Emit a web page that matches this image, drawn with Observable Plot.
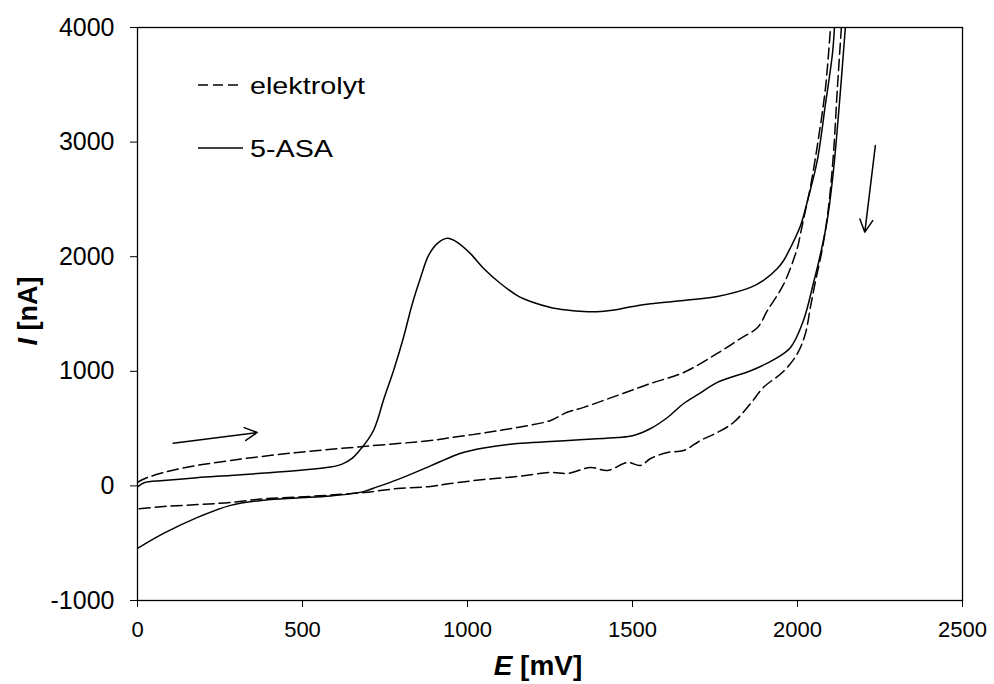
<!DOCTYPE html>
<html><head><meta charset="utf-8">
<script src="https://cdn.jsdelivr.net/npm/d3@7"></script>
<script src="https://cdn.jsdelivr.net/npm/@observablehq/plot@0.6"></script>
<style>body{margin:0;background:#fff;} #chart svg{display:block;}</style>
</head><body><div id="chart"></div>
<script>
// ---- data (E in mV, I in nA) ----
const asaForwardE = [0, 20, 79, 180, 282, 385, 485, 585, 620, 650, 676, 700, 715, 730, 745, 776, 806, 833, 858, 882, 909, 939, 970, 1009, 1049, 1100, 1151, 1200, 1252, 1300, 1352, 1403, 1455, 1500, 1555, 1655, 1757, 1858, 1897, 1939, 1958, 1979, 2009, 2033, 2060, 2085, 2106, 2112];
const asaForwardI = [-10, 28, 47, 72, 91, 112, 135, 165, 190, 240, 320, 410, 483, 600, 746, 1007, 1295, 1592, 1819, 2011, 2116, 2160, 2123, 2027, 1897, 1766, 1661, 1600, 1557, 1535, 1522, 1522, 1540, 1565, 1590, 1618, 1653, 1732, 1793, 1897, 1967, 2080, 2270, 2518, 2840, 3337, 3773, 4000];

const asaReverseE = [2145, 2127, 2109, 2090, 2070, 2048, 2018, 1979, 1927, 1858, 1757, 1700, 1655, 1606, 1555, 1503, 1455, 1352, 1252, 1151, 1049, 979, 948, 888, 788, 715, 685, 585, 485, 382, 282, 182, 79, 0];
const asaReverseI = [4000, 3337, 2752, 2316, 2028, 1766, 1443, 1208, 1100, 1005, 903, 800, 719, 597, 501, 440, 422, 405, 387, 370, 330, 285, 250, 175, 55, -20, -50, -88, -105, -125, -170, -275, -415, -546];

const elForwardE = [0, 30, 130, 282, 485, 685, 888, 948, 1049, 1151, 1252, 1300, 1352, 1455, 1555, 1655, 1757, 1827, 1879, 1909, 1958, 2000, 2009, 2024, 2039, 2064, 2085, 2100];
const elForwardI = [32, 73, 152, 222, 292, 344, 396, 420, 462, 510, 571, 640, 685, 790, 894, 990, 1156, 1286, 1383, 1531, 1760, 2081, 2200, 2403, 2605, 3041, 3478, 4000];

const elReverseE = [2133, 2121, 2109, 2094, 2076, 2055, 2039, 2024, 2000, 1958, 1897, 1858, 1806, 1757, 1706, 1655, 1606, 1555, 1524, 1485, 1424, 1373, 1303, 1252, 1151, 1049, 948, 888, 788, 685, 585, 485, 382, 282, 182, 79, 0];
const elReverseI = [4000, 3478, 2900, 2430, 2081, 1793, 1557, 1330, 1156, 1000, 860, 719, 553, 466, 396, 309, 292, 239, 178, 204, 134, 161, 109, 117, 82, 56, 21, -5, -23, -58, -80, -98, -112, -145, -163, -180, -200];

const seriesNames = ["elektrolyt", "5-ASA"];
const xTicks = [0, 500, 1000, 1500, 2000, 2500];
const yTicks = [-1000, 0, 1000, 2000, 3000, 4000];
const xDomain = [0, 2500];
const yDomain = [-1000, 4000];

// scan-direction arrows [E1, I1, E2, I2]
const arrowE1 = [108, 2236];
const arrowI1 = [373, 2971];
const arrowE2 = [363, 2204];
const arrowI2 = [466, 2214];

// ---- build tables ----
function rows(E, I, series, branch) {
  return E.map((e, i) => ({E: e, I: I[i], series, branch: series + "-" + branch}));
}
const elData = [...rows(elForwardE, elForwardI, seriesNames[0], "f"), ...rows(elReverseE, elReverseI, seriesNames[0], "r")];
const asaData = [...rows(asaForwardE, asaForwardI, seriesNames[1], "f"), ...rows(asaReverseE, asaReverseI, seriesNames[1], "r")];
const arrows = arrowE1.map((e, i) => ({x1: e, y1: arrowI1[i], x2: arrowE2[i], y2: arrowI2[i]}));

const plot = Plot.plot({
  width: 994,
  height: 684,
  marginLeft: 137,
  marginRight: 32,
  marginTop: 27,
  marginBottom: 84,
  style: {fontFamily: "'Liberation Sans', Arial, sans-serif", color: "black", background: "white"},
  x: {domain: xDomain},
  y: {domain: yDomain},
  marks: [
    Plot.axisX({ticks: xTicks, tickSize: 7, tickPadding: 14, tickFormat: d => String(d), fontSize: 22, label: null}),
    Plot.axisY({ticks: yTicks, tickSize: 7, tickPadding: 16, tickFormat: d => String(d), fontSize: 25, label: null}),
    Plot.line(elData, {x: "E", y: "I", z: "branch", stroke: "black", strokeWidth: 1.5, strokeDasharray: "11,5", curve: "catmull-rom", clip: true}),
    Plot.line(asaData, {x: "E", y: "I", z: "branch", stroke: "black", strokeWidth: 1.5, curve: "catmull-rom", clip: true}),
    Plot.arrow(arrows, {x1: "x1", y1: "y1", x2: "x2", y2: "y2", stroke: "black", strokeWidth: 1.5, headLength: 14, headAngle: 55}),
    Plot.frame({stroke: "black", strokeWidth: 1.3})
  ]
});

const svg = d3.select(plot);
const ff = "'Liberation Sans', Arial, sans-serif";

// axis titles
const xt = svg.append("text").attr("x", 538).attr("y", 675).attr("text-anchor", "middle")
  .attr("font-family", ff).attr("font-size", 28).attr("font-weight", "bold").attr("fill", "black");
xt.append("tspan").attr("font-style", "italic").text("E");
xt.append("tspan").text(" [mV]");

const yt = svg.append("text").attr("transform", "translate(37,311) rotate(-90)").attr("text-anchor", "middle")
  .attr("font-family", ff).attr("font-size", 27).attr("font-weight", "bold").attr("fill", "black");
yt.append("tspan").attr("font-style", "italic").text("I");
yt.append("tspan").text(" [nA]");

// legend
const leg = svg.append("g").attr("font-family", ff).attr("font-size", 24).attr("fill", "black").attr("text-anchor", "start");
const legendItems = [
  {name: seriesNames[0], dash: "10,5", y: 85, w: 115},
  {name: seriesNames[1], dash: null, y: 148, w: 83}
];
legendItems.forEach(it => {
  const l = leg.append("line").attr("x1", 198).attr("x2", 243).attr("y1", it.y).attr("y2", it.y)
    .attr("stroke", "black").attr("stroke-width", 1.5);
  if (it.dash) l.attr("stroke-dasharray", it.dash);
  leg.append("text").attr("x", 250).attr("y", it.y + 9).attr("text-anchor", "start")
    .attr("textLength", it.w).attr("lengthAdjust", "spacingAndGlyphs").text(it.name);
});

document.getElementById("chart").appendChild(plot);
</script>
</body></html>
